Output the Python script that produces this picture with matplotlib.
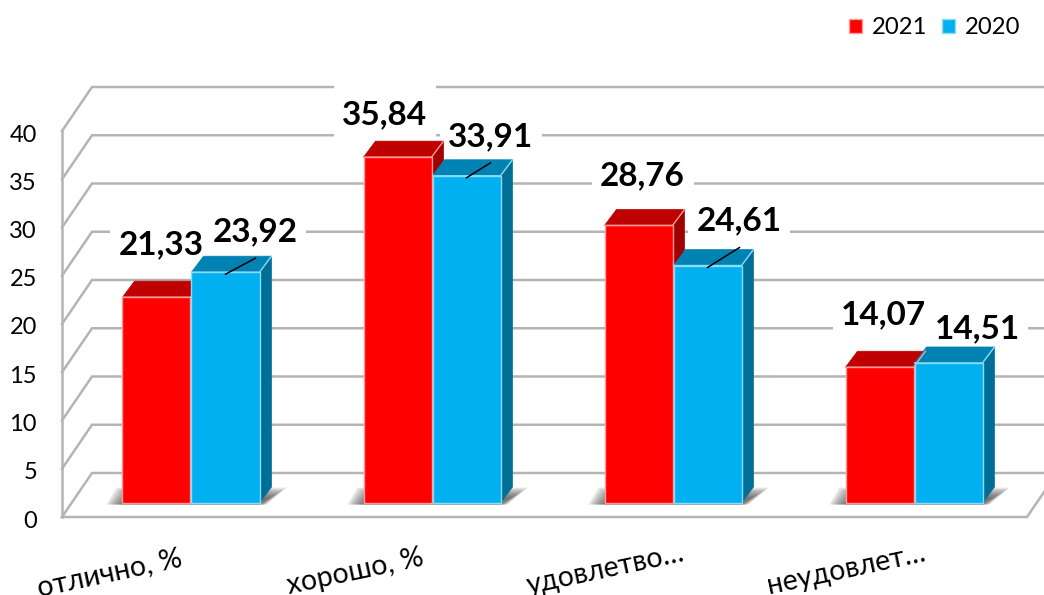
'''
3D looking grouped bar chart, drawn on a flat axes
'''
import matplotlib
matplotlib.use('Agg')
import matplotlib.pyplot as plt
from matplotlib.patches import Polygon, Rectangle

categories = ['отлично, %', 'хорошо, %', 'удовлетво…', 'неудовлет…']
values_2021 = [21.33, 35.84, 28.76, 14.07]
values_2020 = [23.92, 33.91, 24.61, 14.51]
value_labels_2021 = ['21,33', '35,84', '28,76', '14,07']
value_labels_2020 = ['23,92', '33,91', '24,61', '14,51']
y_ticks = [0, 5, 10, 15, 20, 25, 30, 35, 40]

# pixel scale of the picture
PX_X = 241.0
PX_Y = 9.65
BASE_PX = 503.0
CENTER_PX = 190.5
BAR_W = 68.0 / PX_X

# label offsets from bar top centre, pixels right / up
offsets_2021 = [(4.5, 52), (-13, 42), (4, 50), (4, 52)]
offsets_2020 = [(29.5, 40), (24, 39), (31.5, 45), (28.5, 34)]
# leader lines, only where the label was moved away
leaders_2020 = [(30, 16), (24, 15), (32, 20), None]
# category label right end, pixels from group centre and baseline pixel
cat_shift = [-7, -7, 13, 13]
cat_base = [565, 565, 561, 561]

RED = ('#FF0000', '#BF0000', '#A00000', '#FF9A9A')
BLUE = ('#00B0F0', '#0083B3', '#006F98', '#8ADCF8')
GRID = '#B4B4B4'
FONT = ['Lato', 'Open Sans', 'DejaVu Sans']


def dx(px):
    return px / PX_X


def dy(px):
    return px / PX_Y


def x_of(px):
    return (px - CENTER_PX) / PX_X


def y_of(px):
    return (BASE_PX - px) / PX_Y


def draw_walls(ax):
    wall_x = x_of(62)
    back_x = x_of(92)
    end_x = x_of(1027)
    floor = y_of(517)
    for tick in y_ticks:
        y = floor + tick
        ax.plot([wall_x, back_x, x_of(1050)], [y, y + dy(44), y + dy(44)],
                color=GRID, lw=1.8, zorder=1, solid_joinstyle='miter')
        ax.text(x_of(37), y + dy(-4), str(tick), ha='right', va='center',
                fontsize=17, color='black', zorder=5)
    ax.plot([wall_x, wall_x], [floor, floor + y_ticks[-1]], color=GRID, lw=1.8, zorder=1)
    ax.plot([wall_x, end_x, x_of(1057)], [floor, floor, floor + dy(44)], color=GRID, lw=1.8, zorder=1)


def draw_shadow(ax, left, right):
    # soft grey patch under the group, stacked see through layers
    y0 = dy(-1.5)
    for k in range(9):
        gx = dx(2 * (8 - k))
        h = dy(5 + (8 - k) * 1.3)
        pts = [(left - gx, y0), (left + dx(10) - gx, h), (right + dx(12) + gx, h), (right + gx * 0.5, y0)]
        ax.add_patch(Polygon(pts, closed=True, fc='#404040', ec='none', alpha=0.13, zorder=2))


def draw_bar(ax, x, value, colors):
    front, top, side, edge = colors
    ddx = dx(12)
    ddy = dy(16)
    left = x
    right = x + BAR_W
    ax.add_patch(Polygon([(left, value), (left + ddx, value + ddy), (right + ddx, value + ddy), (right, value)],
                         closed=True, fc=top, ec=top, lw=0.5, zorder=3))
    ax.add_patch(Polygon([(right, 0), (right + ddx, ddy), (right + ddx, value + ddy), (right, value)],
                         closed=True, fc=side, ec=side, lw=0.5, zorder=3))
    ax.plot([left, right, right + ddx], [value, value, value + ddy], color=edge, lw=1, zorder=3.2)


def draw_label(ax, x, value, text, offset):
    px = x + dx(offset[0])
    py = value + dy(offset[1])
    # white box goes under the bars, the digits on top of everything
    ax.add_patch(Rectangle((px - dx(51), py - dy(30)), dx(102), dy(60), fc='white', ec='none', zorder=1.5))
    ax.text(px, py, text, ha='center', va='center', fontsize=24, fontweight='bold', color='black', zorder=6)


def plot_chart():
    plt.rcParams['font.family'] = FONT
    fig = plt.figure(figsize=(10.44, 5.95), dpi=100)
    ax = fig.add_axes([0, 0, 1, 1])
    ax.set_xlim(x_of(0), x_of(1044))
    ax.set_ylim(y_of(595), y_of(0))
    ax.axis('off')

    draw_walls(ax)

    for i, cat in enumerate(categories):
        left = i - BAR_W
        v1 = values_2021[i]
        v2 = values_2020[i]
        draw_shadow(ax, left, i + BAR_W)
        draw_bar(ax, left, v1, RED)
        ax.bar(left, v1, BAR_W, align='edge', color=RED[0], edgecolor=RED[3], lw=1, zorder=3.1,
               label='2021' if i == 0 else None)
        draw_bar(ax, i + dx(1), v2, BLUE)
        ax.bar(i + dx(1), v2, BAR_W, align='edge', color=BLUE[0], edgecolor=BLUE[3], lw=1, zorder=3.3,
               label='2020' if i == 0 else None)

        draw_label(ax, left + BAR_W / 2, v1, value_labels_2021[i], offsets_2021[i])
        bx = i + dx(1) + BAR_W / 2
        draw_label(ax, bx, v2, value_labels_2020[i], offsets_2020[i])
        if leaders_2020[i] is not None:
            ax.plot([bx, bx + dx(leaders_2020[i][0])], [v2 + dy(-2), v2 + dy(-2 + leaders_2020[i][1])],
                    color='black', lw=1.1, zorder=6)

        ax.text(i + dx(cat_shift[i]), y_of(cat_base[i]), cat, rotation=12, rotation_mode='anchor',
                ha='right', va='baseline', fontsize=20.5, color='black', zorder=5)

    ax.legend(loc='upper right', bbox_to_anchor=(0.9975, 1.007), ncol=2, frameon=False, fontsize=17.2,
              handlelength=0.55, handleheight=0.55, handletextpad=0.4, columnspacing=0.6)

    fig.savefig('out.png', dpi=100)


def main():
    plot_chart()


if __name__ == '__main__':
    main()
